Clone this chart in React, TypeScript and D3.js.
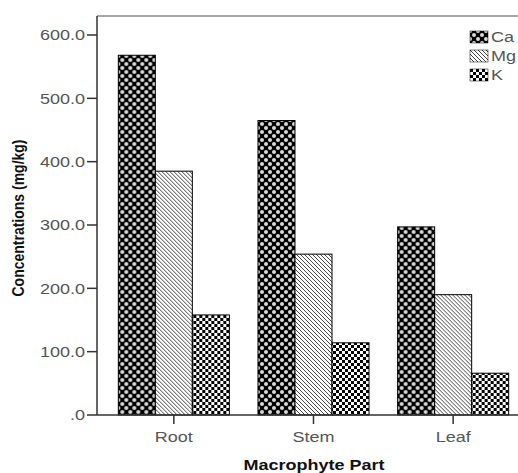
import React from 'react';
import * as d3 from 'd3';

const parts = ['Root', 'Stem', 'Leaf'];
const elements = ['Ca', 'Mg', 'K'];
const caValues = [568, 465, 297];
const mgValues = [385, 254, 190];
const kValues = [158, 114, 66];
const yTicks = [0, 100, 200, 300, 400, 500, 600];

const W = 518;
const H = 473;
const left = 97;
const top = 16;
const bottom = 415;
const sx = 1.2; // the picture is slightly wider than tall in its glyphs

const App = () => {
  const y = d3.scaleLinear().domain([0, 600]).range([bottom, 35]);
  const x = d3.scaleBand().domain(parts).range([104, 523]).paddingInner(0.205).paddingOuter(0.1025);
  const inner = d3.scaleBand().domain(elements).range([0, x.bandwidth()]);
  const series = [caValues, mgValues, kValues];
  const fills = ['url(#pCa)', 'url(#pMg)', 'url(#pK)'];
  const font = 'Liberation Sans, Arial, sans-serif';
  const fmt = (v: number) => (v === 0 ? '.0' : d3.format('.1f')(v));

  return (
    <svg width={W} height={H} style={{ position: 'absolute', left: 0, top: 0 }} fontFamily={font}>
      <defs>
        <pattern id="pCa" width="8" height="8" patternUnits="userSpaceOnUse">
          <rect width="8" height="8" fill="#000" />
          <circle cx="0" cy="0" r="2" fill="#d8d8d8" />
          <circle cx="8" cy="0" r="2" fill="#d8d8d8" />
          <circle cx="0" cy="8" r="2" fill="#d8d8d8" />
          <circle cx="8" cy="8" r="2" fill="#d8d8d8" />
          <circle cx="4" cy="4" r="2" fill="#d8d8d8" />
        </pattern>
        <pattern id="pMg" width="4" height="4" patternUnits="userSpaceOnUse">
          <rect width="4" height="4" fill="#fff" />
          <path d="M-1,-1 L5,5 M-1,3 L1,5 M3,-1 L5,1" stroke="#444" strokeWidth="1" />
        </pattern>
        <pattern id="pK" width="6" height="6" patternUnits="userSpaceOnUse">
          <rect width="6" height="6" fill="#fff" />
          <rect x="0" y="0" width="3" height="3" fill="#000" />
          <rect x="3" y="3" width="3" height="3" fill="#000" />
        </pattern>
      </defs>

      {/* frame */}
      <line x1={left} x2={W} y1={top} y2={top} stroke="#888" strokeWidth={1.5} />

      {/* bars */}
      {parts.map((p, i) => (
        <g key={p} transform={`translate(${x(p)},0)`}>
          {series.map((s, j) => (
            <rect
              key={elements[j]}
              x={inner(elements[j])}
              y={y(s[i])}
              width={inner.bandwidth()}
              height={bottom - y(s[i])}
              fill={fills[j]}
              stroke="#000"
              strokeWidth={1}
            />
          ))}
        </g>
      ))}

      {/* y axis */}
      <line x1={left} x2={left} y1={top} y2={bottom} stroke="#333" strokeWidth={1.5} />
      {yTicks.map((t) => (
        <g key={t}>
          <line x1={left - 10} x2={left} y1={y(t)} y2={y(t)} stroke="#333" strokeWidth={1.5} />
          <text
            transform={`translate(${left - 12},${y(t)}) scale(${sx},1)`}
            dy="0.36em"
            textAnchor="end"
            fontSize={15}
            fill="#555"
          >
            {fmt(t)}
          </text>
        </g>
      ))}

      {/* x axis */}
      <line x1={left} x2={W} y1={bottom} y2={bottom} stroke="#333" strokeWidth={1.5} />
      {parts.map((p) => {
        const cx = (x(p) as number) + x.bandwidth() / 2;
        return (
          <g key={p}>
            <line x1={cx} x2={cx} y1={bottom} y2={bottom + 9} stroke="#333" strokeWidth={1.5} />
            <text transform={`translate(${cx},442) scale(${sx},1)`} textAnchor="middle" fontSize={15} fill="#555">
              {p}
            </text>
          </g>
        );
      })}

      {/* axis titles */}
      <text
        transform={`translate(314,470) scale(${sx},1)`}
        textAnchor="middle"
        fontSize={15}
        fontWeight="bold"
        fill="#111"
      >
        Macrophyte Part
      </text>
      <text
        transform={`translate(24,218) rotate(-90) scale(1,${sx})`}
        textAnchor="middle"
        fontSize={14}
        fontWeight="bold"
        fill="#111"
      >
        Concentrations (mg/kg)
      </text>

      {/* legend */}
      {elements.map((e, j) => (
        <g key={e} transform={`translate(470,${31 + j * 19})`}>
          <rect width={18} height={12} fill={fills[j]} stroke="#000" strokeWidth={0.5} />
          <text transform={`translate(21,6) scale(${sx},1)`} dy="0.36em" fontSize={15} fill="#555">
            {e}
          </text>
        </g>
      ))}
    </svg>
  );
};

export default App;
